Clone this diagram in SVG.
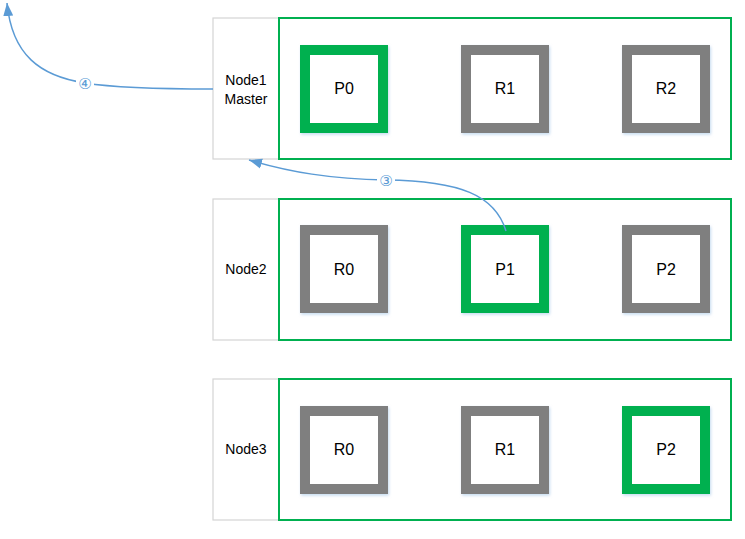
<svg xmlns="http://www.w3.org/2000/svg" width="745" height="539" viewBox="0 0 745 539">
<style>
.nodebox{fill:#fff;stroke:#d4d4d4;stroke-width:1.2}
.shardbox{fill:none;stroke:#00b050;stroke-width:2}
.pri{fill:#fff;stroke:#00b050;stroke-width:10;filter:url(#sh)}
.rep{fill:#fff;stroke:#7f7f7f;stroke-width:10;filter:url(#sh)}
.lbl{font-family:"Liberation Sans",Arial,sans-serif;font-size:14px;fill:#000;text-anchor:middle}
.sl{font-family:"Liberation Sans",Arial,sans-serif;font-size:16px;fill:#000;text-anchor:middle}
.conn{fill:none;stroke:#5b9bd5;stroke-width:1.5}
.cl{font-family:"DejaVu Sans",sans-serif;font-size:15px;fill:#5b9bd5;text-anchor:middle}
</style>
<defs>
<filter id="sh" x="-20%" y="-20%" width="140%" height="140%">
<feDropShadow dx="1" dy="1.5" stdDeviation="1.5" flood-color="#9dc3e6" flood-opacity="0.6"/>
</filter>
<marker id="ah" markerUnits="userSpaceOnUse" markerWidth="14" markerHeight="12" refX="13" refY="5" orient="auto" viewBox="0 0 14 10">
<path d="M0,0 L13,5 L0,10 Z" fill="#5b9bd5"/>
</marker>
</defs>
<rect width="745" height="539" fill="#fff"/>
<g id="node1">
<rect class="nodebox" x="213" y="18" width="66" height="141"/>
<rect class="shardbox" x="279" y="18" width="452" height="141"/>
<text class="lbl" x="246" y="85">Node1</text>
<text class="lbl" x="246" y="104">Master</text>
<g id="n1p0"><rect class="pri" x="305" y="50" width="78" height="78"/><text class="sl" x="344" y="94">P0</text></g>
<g id="n1r1"><rect class="rep" x="466" y="50" width="78" height="78"/><text class="sl" x="505" y="94">R1</text></g>
<g id="n1r2"><rect class="rep" x="627" y="50" width="78" height="78"/><text class="sl" x="666" y="94">R2</text></g>
</g>
<g id="node2">
<rect class="nodebox" x="213" y="199" width="66" height="141"/>
<rect class="shardbox" x="279" y="199" width="452" height="141"/>
<text class="lbl" x="246" y="274">Node2</text>
<g id="n2r0"><rect class="rep" x="305" y="230" width="78" height="78"/><text class="sl" x="344" y="275">R0</text></g>
<g id="n2p1"><rect class="pri" x="466" y="230" width="78" height="78"/><text class="sl" x="505" y="275">P1</text></g>
<g id="n2p2"><rect class="rep" x="627" y="230" width="78" height="78"/><text class="sl" x="666" y="275">P2</text></g>
</g>
<g id="node3">
<rect class="nodebox" x="213" y="379" width="66" height="141"/>
<rect class="shardbox" x="279" y="379" width="452" height="141"/>
<text class="lbl" x="246" y="454">Node3</text>
<g id="n3r0"><rect class="rep" x="305" y="411" width="78" height="78"/><text class="sl" x="344" y="455">R0</text></g>
<g id="n3r1"><rect class="rep" x="466" y="411" width="78" height="78"/><text class="sl" x="505" y="455">R1</text></g>
<g id="n3p2"><rect class="pri" x="627" y="411" width="78" height="78"/><text class="sl" x="666" y="455">P2</text></g>
</g>
<g id="connectors">
<path class="conn" marker-end="url(#ah)" d="M213,89 C150,89 110,87 85,83 C40,76 12,55 7,3"/>
<rect x="76" y="75" width="18" height="16" fill="#fff"/>
<text class="cl" x="85" y="89">④</text>
<path class="conn" marker-end="url(#ah)" d="M506,231 C495,195 460,181 386,180 C330,179 290,172 249,160"/>
<rect x="377" y="172" width="18" height="16" fill="#fff"/>
<text class="cl" x="386" y="186">③</text>
</g>
</svg>
